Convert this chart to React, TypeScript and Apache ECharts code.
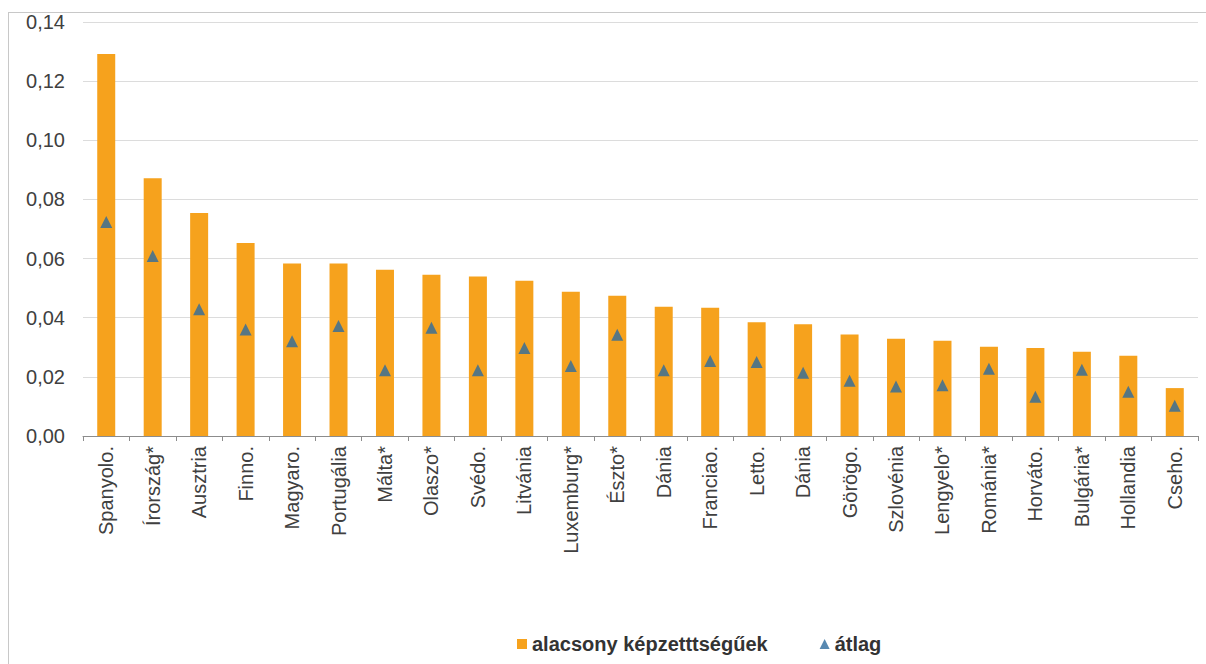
import React, { useEffect, useRef } from "react";
import * as echarts from "echarts";

const categories = [
  "Spanyolo.", "Írország*", "Ausztria", "Finno.", "Magyaro.", "Portugália",
  "Málta*", "Olaszo*", "Svédo.", "Litvánia", "Luxemburg*", "Észto*",
  "Dánia", "Franciao.", "Letto.", "Dánia", "Görögo.", "Szlovénia",
  "Lengyelo*", "Románia*", "Horváto.", "Bulgária*", "Hollandia", "Cseho.",
];

const lowSkilled = [
  0.1292, 0.0872, 0.0754, 0.0653, 0.0583, 0.0583,
  0.0562, 0.0545, 0.0539, 0.0525, 0.0488, 0.0474,
  0.0437, 0.0434, 0.0385, 0.0378, 0.0343, 0.0329,
  0.0322, 0.0302, 0.0298, 0.0285, 0.0271, 0.0162,
];

const average = [
  0.0724, 0.0609, 0.0429, 0.0360, 0.0320, 0.0372,
  0.0222, 0.0366, 0.0222, 0.0298, 0.0237, 0.0342,
  0.0222, 0.0254, 0.0250, 0.0214, 0.0187, 0.0167,
  0.0172, 0.0227, 0.0133, 0.0224, 0.0150, 0.0102,
];

const yTicks = [0, 0.02, 0.04, 0.06, 0.08, 0.1, 0.12, 0.14];

const seriesNames = ["alacsony képzetttségűek", "átlag"];

export default function App() {
  const ref = useRef<HTMLDivElement>(null);

  useEffect(() => {
    if (!ref.current) return;
    const chart = echarts.init(ref.current, undefined, { renderer: "svg" });
    const font = "Arial, 'Liberation Sans', sans-serif";
    chart.setOption({
      animation: false,
      backgroundColor: "#ffffff",
      textStyle: { fontFamily: font },
      grid: { left: 83, right: 8, top: 22, bottom: 228, containLabel: false },
      legend: {
        left: 512,
        top: 629,
        itemWidth: 10,
        itemHeight: 10,
        itemGap: 52,
        textStyle: { fontSize: 20, fontWeight: "bold", color: "#333333", fontFamily: font },
        data: [
          { name: seriesNames[0], icon: "rect" },
          { name: seriesNames[1], icon: "triangle" },
        ],
      },
      xAxis: {
        type: "category",
        data: categories,
        boundaryGap: true,
        axisLine: { show: true, lineStyle: { color: "#8c8c8c", width: 1 } },
        axisTick: { show: true, alignWithLabel: false, length: 5, lineStyle: { color: "#8c8c8c" } },
        axisLabel: {
          rotate: 90,
          margin: 10,
          fontSize: 20,
          color: "#404040",
          fontFamily: font,
          interval: 0,
        },
      },
      yAxis: {
        type: "value",
        min: 0,
        max: yTicks[yTicks.length - 1],
        interval: 0.02,
        axisLine: { show: false },
        axisTick: { show: false },
        splitLine: { show: true, lineStyle: { color: "#dcdcdc", width: 1 } },
        axisLabel: {
          margin: 18,
          fontSize: 20,
          color: "#404040",
          fontFamily: font,
          formatter: (v: number) => v.toFixed(2).replace(".", ","),
        },
      },
      graphic: [
        {
          type: "line",
          shape: { x1: 8, y1: 12.5, x2: 1206, y2: 12.5 },
          style: { stroke: "#c8c8c8", lineWidth: 1 },
          z: 100,
        },
        {
          type: "line",
          shape: { x1: 8.5, y1: 12, x2: 8.5, y2: 664 },
          style: { stroke: "#c8c8c8", lineWidth: 1 },
          z: 100,
        },
      ],
      series: [
        {
          name: seriesNames[0],
          type: "bar",
          data: lowSkilled,
          barWidth: 18,
          itemStyle: { color: "#F6A21D" },
        },
        {
          name: seriesNames[1],
          type: "scatter",
          data: average,
          symbol: "triangle",
          symbolSize: 12,
          itemStyle: { color: "#2E6B9E" },
          z: 3,
        },
      ],
    });
    return () => chart.dispose();
  }, []);

  return (
    <div
      ref={ref}
      style={{ position: "fixed", left: 0, top: 0, width: 1206, height: 664 }}
    />
  );
}
